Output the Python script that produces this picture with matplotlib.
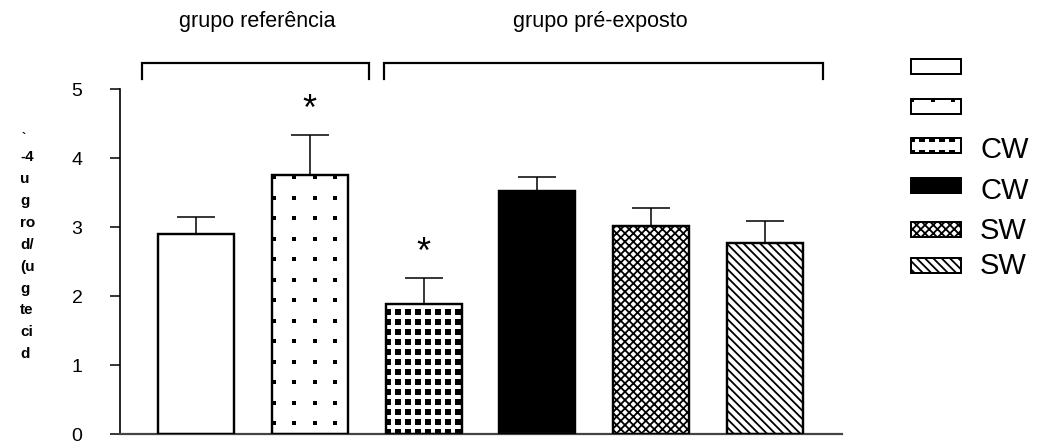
import matplotlib
matplotlib.use("Agg")
import matplotlib.pyplot as plt
import numpy as np

plt.rcParams['font.family'] = ['Liberation Sans', 'DejaVu Sans']
plt.rcParams['hatch.linewidth'] = 1.3

# data
means = [2.90, 3.75, 1.88, 3.52, 3.01, 2.77]
errors = [0.24, 0.58, 0.38, 0.20, 0.27, 0.32]
significant = [False, True, True, False, False, False]
legend_labels = ['', '', 'CW', 'CW', 'SW', 'SW']
group_names = ['grupo referência', 'grupo pré-exposto']
ylabel_lines = ['-4', 'u', 'g', 'ro', 'd/', '(u', 'g', 'te', 'ci', 'd']

# styles for each bar
faces = ['white', 'white', 'white', 'black', 'white', 'white']
hatches = [None, None, None, None, 'xxxx', '\\\\\\\\']
# (step px, square size px, x offset px, y offset px) for the square-dot fills
dots = [None, (20.5, 4.5, 2, 2), (10, 6, 2, 8), None, None, None]

W, H = 1042, 444
fig = plt.figure(figsize=(W / 100, H / 100), dpi=100)
ax = fig.add_axes([120 / W, (H - 434) / H, 722 / W, (434 - 89) / H])

x = np.arange(len(means))
bars = ax.bar(x, means, width=0.667, color=faces, edgecolor='black',
              linewidth=1.6, zorder=2)
for b, h in zip(bars, hatches):
    if h:
        b.set_hatch(h)

ax.errorbar(x, means, yerr=[np.zeros(len(errors)), errors], fmt='none',
            ecolor='black', elinewidth=1.1, capsize=14, capthick=1.1, zorder=1)

ax.set_xlim(-0.667, 5.675)
ax.set_ylim(0, 5)


def dot_fill(axis, patch, spec):
    step, size, ox, oy = spec
    (x0, y0), (x1, y1) = axis.transData.transform(
        [(patch.get_x(), 0), (patch.get_x() + patch.get_width(), patch.get_height())])
    # display coords: y grows upward, so rows start at top edge going down
    xs = np.arange(x0 + ox, x1 + step, step)
    ys = np.arange(y1 - oy, y0 - step, -step)
    gx, gy = np.meshgrid(xs, ys)
    pts = axis.transData.inverted().transform(np.column_stack([gx.ravel(), gy.ravel()]))
    sc = axis.scatter(pts[:, 0], pts[:, 1], marker='s', s=(size * 0.72) ** 2,
                      color='black', linewidths=0, zorder=2.5)
    sc.set_clip_path(patch)


for b, d in zip(bars, dots):
    if d:
        dot_fill(ax, b, d)
# redraw the outlines on top of the dots
ax.bar(x, means, width=0.667, color='none', edgecolor='black', linewidth=1.6, zorder=3)

for xi, m, e, s in zip(x, means, errors, significant):
    if s:
        ax.text(xi, m + e + 0.36, '*', ha='center', va='center', fontsize=26)

# group brackets above the axes
brackets = [(-0.475, 1.52), (1.65, 5.51)]
label_x = [0.535, 3.55]
for (a, b), lx, name in zip(brackets, label_x, group_names):
    ax.plot([a, a, b, b], [5.145, 5.377, 5.377, 5.145], color='black', lw=1.6,
            clip_on=False, solid_joinstyle='miter')
    ax.text(lx, 5.98, name, ha='center', va='center', fontsize=15.5)

for side in ['top', 'right']:
    ax.spines[side].set_visible(False)
ax.spines['left'].set_linewidth(1.2)
ax.spines['bottom'].set_linewidth(1.6)
ax.spines['bottom'].set_color('#444444')
ax.set_xticks([])
ax.set_yticks(range(6))
ax.tick_params(axis='y', direction='out', length=7, width=1.1, pad=20, labelsize=14)

# garbled vertical y label
fig.text(20 / W, 1 - 150 / H, '\n'.join(ylabel_lines), ha='left', va='top',
         fontsize=11, fontweight='bold', linespacing=1.72)
fig.text(22 / W, 1 - 145 / H, '`', ha='left', va='bottom', fontsize=9,
         fontweight='bold')

# legend drawn in pixel coordinates
lax = fig.add_axes([0, 0, 1, 1], facecolor='none')
lax.set_xlim(0, W)
lax.set_ylim(H, 0)
lax.axis('off')
box_tops = [59, 99, 138, 178, 222, 258]
text_y = [None, None, 150, 191, 231, 266]
for i, lab in enumerate(legend_labels):
    top = box_tops[i]
    r = plt.Rectangle((911, top), 50, 15, facecolor=faces[i], edgecolor='black',
                      linewidth=1.3, hatch=hatches[i], zorder=2)
    lax.add_patch(r)
    if dots[i]:
        step, size, ox, oy = dots[i]
        xs = np.arange(911 + 1, 961 + 1, step)
        ys = np.arange(top + 1, top + 16, step if step > 12 else 14)
        gx, gy = np.meshgrid(xs, ys)
        sc = lax.scatter(gx.ravel(), gy.ravel(), marker='s', s=(size * 0.72) ** 2,
                         color='black', linewidths=0, zorder=2.5)
        sc.set_clip_path(r)
    lax.add_patch(plt.Rectangle((911, top), 50, 15, facecolor='none',
                                edgecolor='black', linewidth=1.3, zorder=3))
    if lab:
        lax.text(980, text_y[i], lab, ha='left', va='center', fontsize=21)

fig.savefig('out.png', dpi=100)
